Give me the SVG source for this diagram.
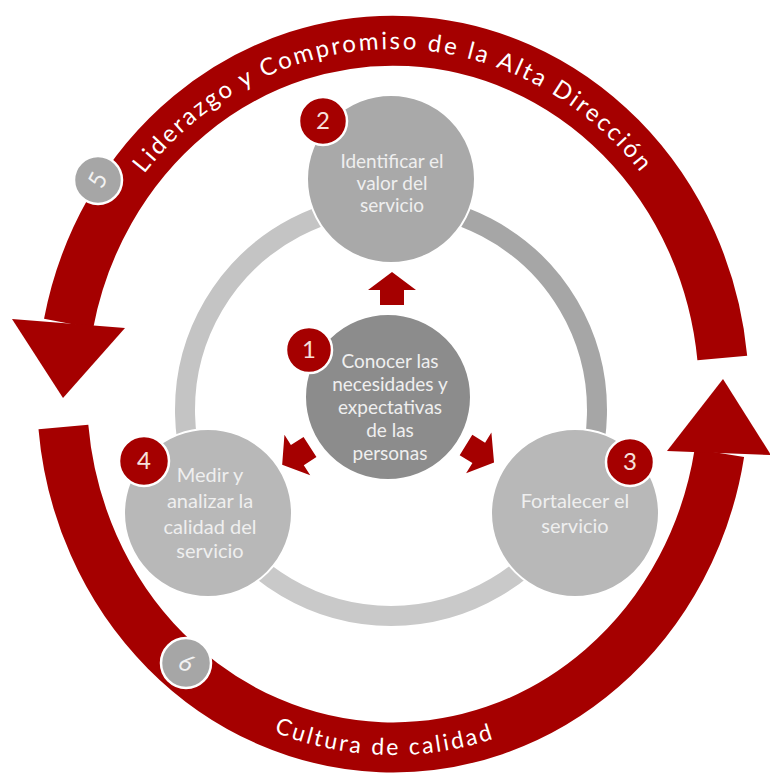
<svg xmlns="http://www.w3.org/2000/svg" width="770" height="774" viewBox="0 0 770 774">
<style>
.band{fill:none;stroke:#a50000;stroke-width:50;stroke-linecap:butt}
.red{fill:#a50000}
.ring{fill:none;stroke-width:20}
.node{stroke:#ffffff;stroke-width:2}
.lbl{font-family:Lato,"Liberation Sans",sans-serif;fill:#efefef;text-anchor:middle}
.badge{fill:#a50000;stroke:#ffffff;stroke-width:2.5}
.gbadge{fill:#a6a6a6;stroke:#ffffff;stroke-width:2.5}
.num{font-family:Lato,"Liberation Sans",sans-serif;font-size:24px;fill:#f6e0dc;text-anchor:middle}
.arc{font-family:Lato,"Liberation Sans",sans-serif;fill:#ffffff;text-anchor:middle}
</style>
<defs>
<path id="topPath" d="M 70 394 A 323 345 0 0 1 716 394"/>
<path id="botPath" d="M 54 394 A 339 361 0 0 0 732 394"/>
<path id="blk" d="M -12 0 L -12 -15 L -24 -15 L 0 -33 L 24 -15 L 12 -15 L 12 0 Z"/>
</defs>

<g id="connectors">
  <g id="outer-top">
    <path class="band" d="M 722.3 358 A 331 353 0 0 0 68.6 323.5"/>
    <polygon class="red" points="12,319 125,328 63,398"/>
  </g>
  <g id="outer-bottom">
    <path class="band" d="M 63.4 427 A 331 353 0 0 0 719.4 453"/>
    <polygon class="red" points="667,451 771,455 723,379"/>
  </g>
  <g id="inner-ring">
    <path class="ring" stroke="#a6a6a6" d="M 391 204 A 206 206 0 0 1 571.2 509.8"/>
    <path class="ring" stroke="#c9c9c9" d="M 571.2 509.8 A 206 206 0 0 1 210.8 509.8"/>
    <path class="ring" stroke="#c4c4c4" d="M 210.8 509.8 A 206 206 0 0 1 391 204"/>
  </g>
  <g id="small-arrows">
    <use href="#blk" class="red" transform="translate(392,305)"/>
    <use href="#blk" class="red" transform="translate(310,447) rotate(-122.5)"/>
    <use href="#blk" class="red" transform="translate(466,445) rotate(121.8)"/>
  </g>
</g>

<g id="label-top">
  <text class="arc" font-size="24" letter-spacing="2.5"><textPath href="#topPath" startOffset="50%">Liderazgo y Compromiso de la Alta Dirección</textPath></text>
</g>
<g id="label-bottom">
  <text class="arc" font-size="23" letter-spacing="2.5"><textPath href="#botPath" startOffset="49.2%">Cultura de calidad</textPath></text>
</g>

<g id="node2">
  <circle class="node" cx="391" cy="179" r="84" fill="#a9a9a9"/>
  <text class="lbl" font-size="19"><tspan x="392" y="168">Identificar  el</tspan><tspan x="392" y="190">valor del</tspan><tspan x="392" y="212">servicio</tspan></text>
</g>
<g id="node1">
  <circle class="node" cx="388" cy="397" r="83" fill="#8c8c8c"/>
  <text class="lbl" font-size="19"><tspan x="390" y="368">Conocer las</tspan><tspan x="390" y="391">necesidades y</tspan><tspan x="390" y="414">expectativas</tspan><tspan x="390" y="437">de las</tspan><tspan x="390" y="460">personas</tspan></text>
</g>
<g id="node4">
  <circle class="node" cx="208" cy="513" r="84" fill="#b8b8b8"/>
  <text class="lbl" font-size="20"><tspan x="210" y="482">Medir y</tspan><tspan x="210" y="508">analizar la</tspan><tspan x="210" y="534">calidad del</tspan><tspan x="210" y="558">servicio</tspan></text>
</g>
<g id="node3">
  <circle class="node" cx="575" cy="513" r="84" fill="#b8b8b8"/>
  <text class="lbl" font-size="20"><tspan x="575" y="508">Fortalecer el</tspan><tspan x="575" y="533">servicio</tspan></text>
</g>

<g id="badge1"><circle class="badge" cx="309" cy="350" r="23"/><text class="num" x="309" y="358">1</text></g>
<g id="badge2"><circle class="badge" cx="323" cy="121" r="24"/><text class="num" x="323" y="129">2</text></g>
<g id="badge3"><circle class="badge" cx="630" cy="462" r="24"/><text class="num" x="630" y="470">3</text></g>
<g id="badge4"><circle class="badge" cx="144" cy="461" r="25"/><text class="num" x="144" y="469">4</text></g>
<g id="badge5"><circle class="gbadge" cx="98" cy="180" r="24"/><text class="num" fill="#f2f2f2" style="fill:#f2f2f2" transform="translate(98,180) rotate(-62)" x="0" y="8">5</text></g>
<g id="badge6"><circle class="gbadge" cx="186" cy="663" r="25"/><text class="num" style="fill:#f2f2f2;font-style:italic" transform="translate(186,663) rotate(30)" x="0" y="8">6</text></g>
</svg>
